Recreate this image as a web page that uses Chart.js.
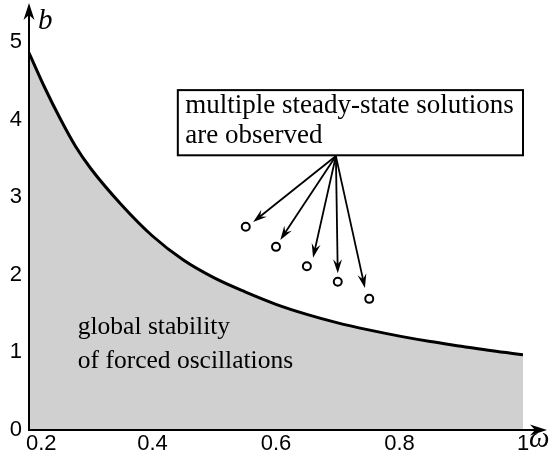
<!DOCTYPE html>
<html>
<head>
<meta charset="utf-8">
<script src="https://cdn.jsdelivr.net/npm/chart.js@4.4.1/dist/chart.umd.min.js"></script>
<style>
html,body{margin:0;padding:0;background:#fff;}
#wrap{width:556px;height:457px;}
</style>
</head>
<body>
<div id="wrap"><canvas id="c" width="556" height="457"></canvas></div>
<script>
// ---- data ----
const omega     = [0.2, 0.225, 0.25, 0.275, 0.3, 0.35, 0.4, 0.45, 0.5, 0.55, 0.6, 0.65, 0.7, 0.75, 0.8, 0.85, 0.9, 0.95, 1.0];
const bBoundary = [4.86, 4.42, 4.02, 3.66, 3.37, 2.90, 2.50, 2.19, 1.96, 1.78, 1.62, 1.49, 1.38, 1.29, 1.21, 1.14, 1.08, 1.02, 0.97];
const obsOmega  = [0.551, 0.600, 0.650, 0.700, 0.751];
const obsB      = [2.62, 2.36, 2.11, 1.91, 1.69];
const arrowFrom = [0.697, 3.53];
const arrowEndOmega = [0.563, 0.607, 0.660, 0.700, 0.744];
const arrowEndB     = [2.68, 2.45, 2.22, 2.02, 1.83];
const xTicks = [0.2, 0.4, 0.6, 0.8, 1];
const yTicks = [0, 1, 2, 3, 4, 5];
const boxText = ["multiple steady-state solutions", "are observed"];
const regionText = ["global stability", "of forced oscillations"];

const boundaryPts = omega.map((w, i) => ({x: w, y: bBoundary[i]}));
const obsPts = obsOmega.map((w, i) => ({x: w, y: obsB[i]}));

function arrowHead(ctx, x0, y0, x1, y1, len, half, notch) {
  const a = Math.atan2(y1 - y0, x1 - x0);
  const c = Math.cos(a), s = Math.sin(a);
  ctx.beginPath();
  ctx.moveTo(x1, y1);
  ctx.lineTo(x1 - len * c + half * s, y1 - len * s - half * c);
  ctx.lineTo(x1 - notch * c, y1 - notch * s);
  ctx.lineTo(x1 - len * c - half * s, y1 - len * s + half * c);
  ctx.closePath();
  ctx.fill();
}

const decor = {
  id: 'decor',
  afterDatasetsDraw(chart) {
    const ctx = chart.ctx;
    const xs = chart.scales.x, ys = chart.scales.y;
    const X = v => xs.getPixelForValue(v), Y = v => ys.getPixelForValue(v);
    const ca = chart.chartArea;
    ctx.save();
    ctx.fillStyle = '#000';
    ctx.strokeStyle = '#000';
    // axis extensions with arrowheads
    ctx.lineWidth = 2;
    const x0 = X(0.2), y0 = Y(0);
    ctx.beginPath();
    ctx.moveTo(x0, y0); ctx.lineTo(ca.right + 20, y0);
    ctx.moveTo(x0, y0); ctx.lineTo(x0, ca.top - 34);
    ctx.stroke();
    arrowHead(ctx, x0, y0, ca.right + 24, y0, 17, 5.5, 12);
    arrowHead(ctx, x0, y0, x0, ca.top - 39, 17, 5.5, 12);
    // axis titles
    ctx.font = 'italic 29px "Liberation Serif"';
    ctx.textBaseline = 'alphabetic';
    ctx.textAlign = 'left';
    ctx.fillText('b', x0 + 9, ca.top - 13);
    ctx.fillText('\u03c9', ca.right + 6, y0 + 17);
    // annotation box
    const bl = X(0.441), bt = Y(4.38), br = X(1.0), bb = Y(3.54);
    ctx.fillStyle = '#fff';
    ctx.fillRect(bl, bt, br - bl, bb - bt);
    ctx.lineWidth = 2;
    ctx.strokeRect(bl, bt, br - bl, bb - bt);
    ctx.fillStyle = '#000';
    ctx.font = '27px "Liberation Serif"';
    ctx.fillText(boxText[0], X(0.453), Y(4.08));
    ctx.fillText(boxText[1], X(0.453), Y(3.70));
    // region text
    ctx.font = '25.5px "Liberation Serif"';
    ctx.fillText(regionText[0], X(0.279), Y(1.24));
    ctx.fillText(regionText[1], X(0.279), Y(0.80));
    // arrows
    ctx.lineWidth = 1.8;
    const fx = X(arrowFrom[0]), fy = Y(arrowFrom[1]);
    arrowEndOmega.forEach((w, i) => {
      const tx = X(w), ty = Y(arrowEndB[i]);
      const a = Math.atan2(ty - fy, tx - fx);
      ctx.beginPath();
      ctx.moveTo(fx, fy);
      ctx.lineTo(tx - 8 * Math.cos(a), ty - 8 * Math.sin(a));
      ctx.stroke();
      arrowHead(ctx, fx, fy, tx, ty, 14, 4.5, 9);
    });
    ctx.restore();
  }
};

new Chart(document.getElementById('c'), {
  type: 'scatter',
  data: {
    datasets: [
      {
        type: 'line',
        data: boundaryPts,
        borderColor: '#000',
        borderWidth: 3,
        backgroundColor: '#d0d0d0',
        fill: 'origin',
        pointRadius: 0,
        cubicInterpolationMode: 'monotone',
        order: 2
      },
      {
        data: obsPts,
        pointRadius: 4,
        pointBorderWidth: 2,
        pointBorderColor: '#000',
        pointBackgroundColor: '#fff',
        order: 1
      }
    ]
  },
  options: {
    responsive: false,
    animation: false,
    events: [],
    layout: { padding: { left: 0, top: 42, right: 33, bottom: 0 } },
    plugins: { legend: { display: false }, tooltip: { enabled: false } },
    scales: {
      x: {
        type: 'linear', min: 0.2, max: 1,
        afterBuildTicks: s => { s.ticks = xTicks.map(v => ({value: v})); },
        afterFit: s => { s.height = 27; },
        grid: { display: false, drawTicks: false },
        border: { display: true, color: '#000', width: 2 },
        ticks: {
          padding: 1, color: '#000',
          font: { family: '"Liberation Sans"', size: 22 },
          maxRotation: 0, autoSkip: false,
          callback: v => v === 1 ? '1' : (Math.abs(v - 0.2) < 1e-9 ? '    0.2' : v.toFixed(1))
        }
      },
      y: {
        type: 'linear', min: 0, max: 5,
        afterBuildTicks: s => { s.ticks = yTicks.map(v => ({value: v})); },
        afterFit: s => { s.width = 29; },
        grid: { display: false, drawTicks: false },
        border: { display: true, color: '#000', width: 2 },
        ticks: {
          padding: 7, color: '#000',
          font: { family: '"Liberation Sans"', size: 22 },
          callback: v => String(v)
        }
      }
    }
  },
  plugins: [decor]
});
</script>
</body>
</html>
